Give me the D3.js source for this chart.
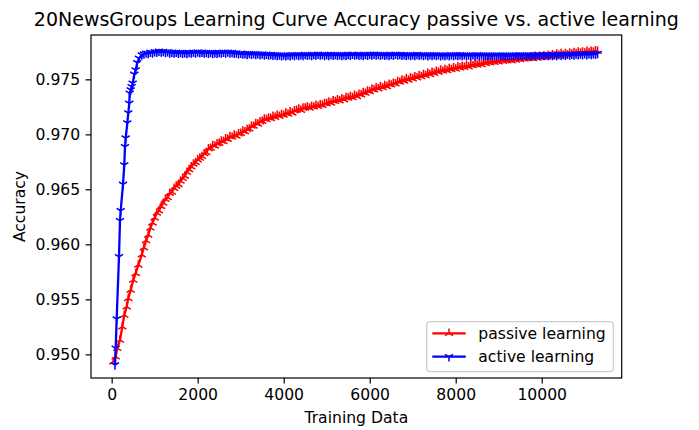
<!DOCTYPE html>
<html>
<head>
<meta charset="utf-8">
<script src="https://cdn.jsdelivr.net/npm/d3@7"></script>
<style>
  body { margin: 0; background: #fff; }
  svg { display: block; font-family: "DejaVu Sans", sans-serif; }
  .tick text { font-size: 15.6px; fill: #000; }
  .tick line { stroke: #000; stroke-width: 1.2; }
</style>
</head>
<body>
<div id="chart"></div>
<script>
var width = 699,
    height = 430;

// plot frame in pixels
const frame = { left: 91, right: 621.7, top: 35, bottom: 378 };

const xTicks = [0, 2000, 4000, 6000, 8000, 10000];
const yTicks = [0.950, 0.955, 0.960, 0.965, 0.970, 0.975];

// passive learning (red)
const passiveX = [37, 93, 130, 193, 247, 293, 349, 386, 442, 502, 558, 619, 700,
    750, 800, 850, 900, 950, 1000, 1050, 1100, 1150, 1200, 1250, 1300, 1350, 1400, 1450,
    1500, 1550, 1600, 1650, 1700, 1750, 1800, 1850, 1900, 1950,
    2000, 2050, 2100, 2150, 2200, 2250, 2300, 2350, 2400, 2450,
    2500, 2550, 2600, 2650, 2700, 2750, 2800, 2850, 2900, 2950,
    3000, 3050, 3100, 3150, 3200, 3250, 3300, 3350, 3400, 3450,
    3500, 3550, 3600, 3650, 3700, 3750, 3800, 3850, 3900, 3950,
    4000, 4050, 4100, 4150, 4200, 4250, 4300, 4350, 4400, 4450,
    4500, 4550, 4600, 4650, 4700, 4750, 4800, 4850, 4900, 4950,
    5000, 5050, 5100, 5150, 5200, 5250, 5300, 5350, 5400, 5450,
    5500, 5550, 5600, 5650, 5700, 5750, 5800, 5850, 5900, 5950,
    6000, 6050, 6100, 6150, 6200, 6250, 6300, 6350, 6400, 6450,
    6500, 6550, 6600, 6650, 6700, 6750, 6800, 6850, 6900, 6950,
    7000, 7050, 7100, 7150, 7200, 7250, 7300, 7350, 7400, 7450,
    7500, 7550, 7600, 7650, 7700, 7750, 7800, 7850, 7900, 7950,
    8000, 8050, 8100, 8150, 8200, 8250, 8300, 8350, 8400, 8450,
    8500, 8550, 8600, 8650, 8700, 8750, 8800, 8850, 8900, 8950,
    9000, 9050, 9100, 9150, 9200, 9250, 9300, 9350, 9400, 9450,
    9500, 9550, 9600, 9650, 9700, 9750, 9800, 9850, 9900, 9950,
    10000, 10050, 10100, 10150, 10200, 10250, 10300, 10350, 10400, 10450,
    10500, 10550, 10600, 10650, 10700, 10750, 10800, 10850, 10900, 10950,
    11000, 11050, 11100, 11150, 11200, 11250, 11300];
const passiveY = [0.94933, 0.94978, 0.95055, 0.95130, 0.95251, 0.95357, 0.95433, 0.95509, 0.95585, 0.95675, 0.95736, 0.95812, 0.95905,
    0.95970, 0.96035, 0.96085, 0.96150, 0.96195, 0.96240, 0.96285, 0.96305, 0.96345, 0.96375, 0.96410, 0.96425, 0.96465, 0.96475, 0.96510,
    0.96530, 0.96545, 0.96575, 0.96600, 0.96620, 0.96655, 0.96680, 0.96705, 0.96730, 0.96745,
    0.96770, 0.96785, 0.96800, 0.96825, 0.96835, 0.96870, 0.96875, 0.96900, 0.96895, 0.96915,
    0.96920, 0.96940, 0.96935, 0.96960, 0.96955, 0.96980, 0.96975, 0.96995, 0.96985, 0.97005,
    0.97010, 0.97030, 0.97025, 0.97045, 0.97050, 0.97075, 0.97075, 0.97100, 0.97095, 0.97115,
    0.97120, 0.97140, 0.97135, 0.97150, 0.97145, 0.97165, 0.97155, 0.97175, 0.97165, 0.97180,
    0.97175, 0.97195, 0.97185, 0.97205, 0.97195, 0.97215, 0.97220, 0.97230, 0.97220, 0.97240,
    0.97240, 0.97250, 0.97240, 0.97255, 0.97250, 0.97265, 0.97255, 0.97270, 0.97265, 0.97280,
    0.97280, 0.97295, 0.97285, 0.97305, 0.97300, 0.97315, 0.97305, 0.97325, 0.97315, 0.97335,
    0.97330, 0.97345, 0.97335, 0.97355, 0.97345, 0.97365, 0.97360, 0.97380, 0.97375, 0.97395,
    0.97390, 0.97410, 0.97405, 0.97425, 0.97415, 0.97435, 0.97425, 0.97445, 0.97435, 0.97455,
    0.97450, 0.97465, 0.97460, 0.97480, 0.97475, 0.97495, 0.97485, 0.97505, 0.97495, 0.97515,
    0.97505, 0.97525, 0.97515, 0.97535, 0.97525, 0.97545, 0.97535, 0.97555, 0.97545, 0.97565,
    0.97555, 0.97575, 0.97565, 0.97585, 0.97575, 0.97590, 0.97580, 0.97600, 0.97590, 0.97605,
    0.97595, 0.97615, 0.97605, 0.97620, 0.97610, 0.97625, 0.97615, 0.97635, 0.97625, 0.97640,
    0.97630, 0.97645, 0.97635, 0.97655, 0.97645, 0.97660, 0.97650, 0.97665, 0.97655, 0.97670,
    0.97660, 0.97675, 0.97665, 0.97680, 0.97670, 0.97685, 0.97670, 0.97690, 0.97675, 0.97690,
    0.97680, 0.97695, 0.97685, 0.97700, 0.97690, 0.97705, 0.97690, 0.97710, 0.97695, 0.97710,
    0.97700, 0.97715, 0.97705, 0.97720, 0.97710, 0.97725, 0.97715, 0.97730, 0.97720, 0.97735,
    0.97720, 0.97735, 0.97725, 0.97740, 0.97730, 0.97745, 0.97735, 0.97750, 0.97740, 0.97750,
    0.97740, 0.97755, 0.97745, 0.97755, 0.97750, 0.97760, 0.97755];

// active learning (blue)
const activeX = [77, 93, 116, 170, 193, 209, 263, 293, 309, 326, 363, 386, 409, 419, 442, 465, 488, 526, 558, 595, 635,
    700, 750, 800, 850, 900, 950, 1000, 1050, 1100, 1150,
    1200, 1250, 1300, 1350, 1400, 1450, 1500, 1550, 1600, 1650,
    1700, 1750, 1800, 1850, 1900, 1950, 2000, 2050, 2100, 2150,
    2200, 2250, 2300, 2350, 2400, 2450, 2500, 2550, 2600, 2650,
    2700, 2750, 2800, 2850, 2900, 2950, 3000, 3050, 3100, 3150,
    3200, 3250, 3300, 3350, 3400, 3450, 3500, 3550, 3600, 3650,
    3700, 3750, 3800, 3850, 3900, 3950, 4000, 4050, 4100, 4150,
    4200, 4250, 4300, 4350, 4400, 4450, 4500, 4550, 4600, 4650,
    4700, 4750, 4800, 4850, 4900, 4950, 5000, 5050, 5100, 5150,
    5200, 5250, 5300, 5350, 5400, 5450, 5500, 5550, 5600, 5650,
    5700, 5750, 5800, 5850, 5900, 5950, 6000, 6050, 6100, 6150,
    6200, 6250, 6300, 6350, 6400, 6450, 6500, 6550, 6600, 6650,
    6700, 6750, 6800, 6850, 6900, 6950, 7000, 7050, 7100, 7150,
    7200, 7250, 7300, 7350, 7400, 7450, 7500, 7550, 7600, 7650,
    7700, 7750, 7800, 7850, 7900, 7950, 8000, 8050, 8100, 8150,
    8200, 8250, 8300, 8350, 8400, 8450, 8500, 8550, 8600, 8650,
    8700, 8750, 8800, 8850, 8900, 8950, 9000, 9050, 9100, 9150,
    9200, 9250, 9300, 9350, 9400, 9450, 9500, 9550, 9600, 9650,
    9700, 9750, 9800, 9850, 9900, 9950, 10000, 10050, 10100, 10150,
    10200, 10250, 10300, 10350, 10400, 10450, 10500, 10550, 10600, 10650,
    10700, 10750, 10800, 10850, 10900, 10950, 11000, 11050, 11100, 11150,
    11200, 11250, 11300];
const activeY = [0.94903, 0.95055, 0.95321, 0.95887, 0.96215, 0.96305, 0.96545, 0.96721, 0.96887, 0.96966, 0.97103, 0.97194, 0.97282, 0.97373, 0.97403, 0.97433, 0.97464, 0.97545, 0.97585, 0.97651, 0.97691,
    0.97721, 0.97730, 0.97738, 0.97735, 0.97745, 0.97740, 0.97750, 0.97745, 0.97755, 0.97748,
    0.97752, 0.97744, 0.97750, 0.97740, 0.97746, 0.97738, 0.97745, 0.97736, 0.97744, 0.97737,
    0.97742, 0.97735, 0.97744, 0.97738, 0.97746, 0.97740, 0.97748, 0.97741, 0.97745, 0.97738,
    0.97744, 0.97737, 0.97743, 0.97735, 0.97741, 0.97736, 0.97744, 0.97738, 0.97746, 0.97739,
    0.97747, 0.97740, 0.97744, 0.97736, 0.97739, 0.97731, 0.97736, 0.97729, 0.97733, 0.97726,
    0.97734, 0.97727, 0.97733, 0.97725, 0.97731, 0.97723, 0.97729, 0.97721, 0.97727, 0.97720,
    0.97726, 0.97718, 0.97723, 0.97716, 0.97721, 0.97714, 0.97720, 0.97713, 0.97721, 0.97715,
    0.97723, 0.97716, 0.97724, 0.97717, 0.97723, 0.97716, 0.97725, 0.97718, 0.97724, 0.97717,
    0.97726, 0.97719, 0.97727, 0.97720, 0.97725, 0.97717, 0.97724, 0.97716, 0.97726, 0.97719,
    0.97725, 0.97718, 0.97723, 0.97716, 0.97724, 0.97717, 0.97726, 0.97719, 0.97727, 0.97720,
    0.97725, 0.97718, 0.97724, 0.97717, 0.97726, 0.97719, 0.97727, 0.97720, 0.97728, 0.97721,
    0.97726, 0.97719, 0.97725, 0.97718, 0.97724, 0.97717, 0.97726, 0.97719, 0.97727, 0.97720,
    0.97725, 0.97718, 0.97724, 0.97716, 0.97723, 0.97716, 0.97724, 0.97717, 0.97725, 0.97718,
    0.97723, 0.97716, 0.97722, 0.97715, 0.97723, 0.97716, 0.97724, 0.97717, 0.97722, 0.97715,
    0.97721, 0.97714, 0.97722, 0.97715, 0.97723, 0.97716, 0.97724, 0.97717, 0.97723, 0.97716,
    0.97722, 0.97715, 0.97721, 0.97714, 0.97722, 0.97715, 0.97723, 0.97716, 0.97722, 0.97715,
    0.97721, 0.97714, 0.97720, 0.97713, 0.97721, 0.97714, 0.97722, 0.97715, 0.97721, 0.97714,
    0.97720, 0.97713, 0.97721, 0.97714, 0.97722, 0.97715, 0.97723, 0.97716, 0.97722, 0.97715,
    0.97721, 0.97714, 0.97722, 0.97715, 0.97723, 0.97716, 0.97724, 0.97717, 0.97723, 0.97716,
    0.97722, 0.97716, 0.97724, 0.97717, 0.97725, 0.97718, 0.97726, 0.97719, 0.97727, 0.97720,
    0.97728, 0.97721, 0.97729, 0.97722, 0.97730, 0.97723, 0.97731, 0.97724, 0.97732, 0.97725,
    0.97733, 0.97727, 0.97734];

const seriesNames = ['passive learning', 'active learning'];
const seriesColors = ['#ff0000', '#0000ff'];

var x = d3.scaleLinear()
    .domain([-481, 11860])
    .range([frame.left, frame.right]);

var y = d3.scaleLinear()
    .domain([0.94785, 0.97903])
    .range([frame.bottom, frame.top]);

var svg = d3.select('#chart').append('svg')
    .attr('width', width)
    .attr('height', height);

const markerR = 4.7;

// tri_up for passive, tri_down for active
function triPath(dir) {
    const r = markerR, s = 0.866 * r, h = 0.5 * r;
    return `M0,0L0,${-dir * r}M0,0L${-s},${dir * h}M0,0L${s},${dir * h}`;
}

const line = d3.line()
    .x(d => x(d[0]))
    .y(d => y(d[1]));

svg.append('clipPath').attr('id', 'clip')
    .append('rect')
    .attr('x', frame.left).attr('y', frame.top)
    .attr('width', frame.right - frame.left)
    .attr('height', frame.bottom - frame.top);

const plot = svg.append('g').attr('clip-path', 'url(#clip)');

function drawSeries(xs, ys, color, dir) {
    const pts = xs.map((d, i) => [d, ys[i]]);
    plot.append('path')
        .datum(pts)
        .attr('fill', 'none')
        .attr('stroke', color)
        .attr('stroke-width', 2.3)
        .attr('stroke-linejoin', 'round')
        .attr('d', line);

    plot.selectAll(null)
        .data(pts)
        .enter()
        .append('path')
        .attr('transform', d => `translate(${x(d[0])},${y(d[1])})`)
        .attr('d', triPath(dir))
        .attr('fill', 'none')
        .attr('stroke', color)
        .attr('stroke-width', 1.55);
}

drawSeries(passiveX, passiveY, seriesColors[0], 1);
drawSeries(activeX, activeY, seriesColors[1], -1);

// axes
svg.append('g')
    .attr('transform', `translate(0,${frame.bottom})`)
    .call(d3.axisBottom(x).tickValues(xTicks).tickSize(5.4).tickPadding(5.4).tickFormat(d3.format('d')))
    .call(g => g.select('.domain').remove());

svg.append('g')
    .attr('transform', `translate(${frame.left},0)`)
    .call(d3.axisLeft(y).tickValues(yTicks).tickSize(5.4).tickPadding(5.4).tickFormat(d3.format('.3f')))
    .call(g => g.select('.domain').remove());

svg.selectAll('.tick text').attr('font-family', '"DejaVu Sans", sans-serif');

svg.append('rect')
    .attr('x', frame.left).attr('y', frame.top)
    .attr('width', frame.right - frame.left)
    .attr('height', frame.bottom - frame.top)
    .attr('fill', 'none')
    .attr('stroke', '#000')
    .attr('stroke-width', 1.2);

// title and labels
svg.append('text')
    .attr('x', (frame.left + frame.right) / 2)
    .attr('y', 26)
    .attr('text-anchor', 'middle')
    .style('font-size', '19px')
    .text('20NewsGroups Learning Curve Accuracy passive vs. active learning');

svg.append('text')
    .attr('x', (frame.left + frame.right) / 2)
    .attr('y', 423)
    .attr('text-anchor', 'middle')
    .style('font-size', '15.6px')
    .text('Training Data');

svg.append('text')
    .attr('transform', `translate(25,${(frame.top + frame.bottom) / 2}) rotate(-90)`)
    .attr('text-anchor', 'middle')
    .style('font-size', '15.6px')
    .text('Accuracy');

// legend
const legend = svg.append('g');

legend.append('rect')
    .attr('x', 426.7).attr('y', 321.7)
    .attr('width', 186.6).attr('height', 50)
    .attr('rx', 3.5)
    .attr('fill', '#fff').attr('fill-opacity', 0.8)
    .attr('stroke', '#cccccc').attr('stroke-width', 1.2);

const legendE = legend.selectAll('.key')
    .data(seriesNames)
    .enter()
    .append('g')
    .attr('class', 'key')
    .attr('transform', (d, i) => `translate(432.3,${333.3 + i * 23.4})`);

legendE.append('line')
    .attr('x1', 0).attr('x2', 33.4)
    .attr('stroke', (d, i) => seriesColors[i])
    .attr('stroke-width', 2.3);

legendE.append('path')
    .attr('transform', 'translate(16.7,0)')
    .attr('d', (d, i) => triPath(i === 0 ? 1 : -1))
    .attr('fill', 'none')
    .attr('stroke', (d, i) => seriesColors[i])
    .attr('stroke-width', 1.55);

legendE.append('text')
    .attr('x', 46)
    .attr('dy', '0.35em')
    .style('font-size', '15.6px')
    .text(d => d);
</script>
</body>
</html>
